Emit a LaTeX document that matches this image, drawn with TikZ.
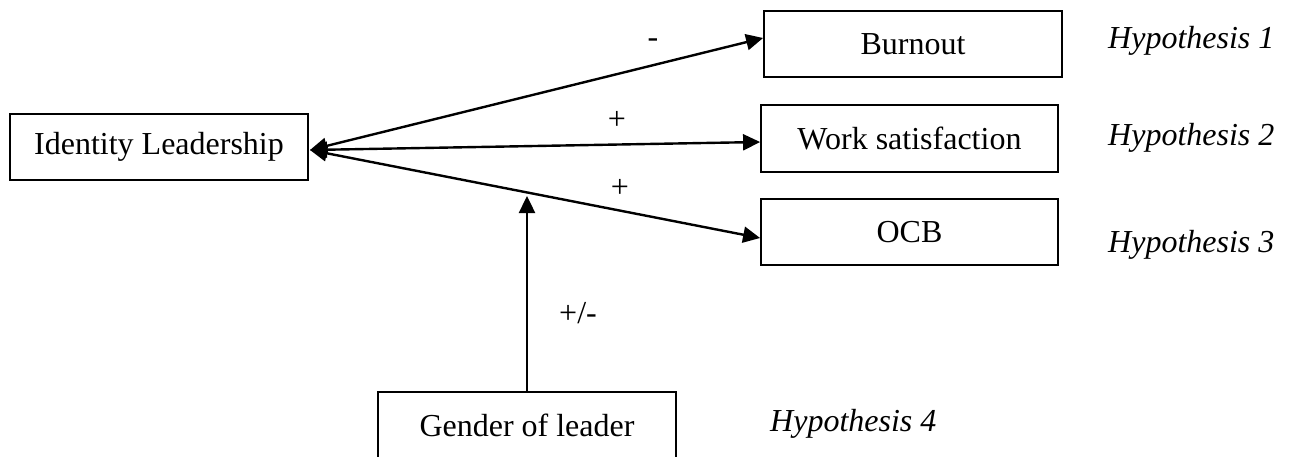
\documentclass[tikz,border=0pt]{standalone}
\usepackage{fontspec}
\setmainfont{Liberation Serif}
\usetikzlibrary{arrows.meta}
\begin{document}
\begin{tikzpicture}[x=1pt,y=-1pt,
  box/.style={draw,line width=1.8pt,inner sep=0pt,font=\fontsize{32}{38}\selectfont},
  lbl/.style={font=\fontsize{32}{38}\selectfont,inner sep=0pt},
  hyp/.style={font=\fontsize{32}{38}\selectfont\itshape,inner sep=0pt,anchor=west},
  conn/.style={line width=2.4pt,{Triangle[length=17pt,width=16pt]}-{Triangle[length=17pt,width=16pt]}},
  upar/.style={line width=2.4pt,-{Triangle[length=17pt,width=16pt]}}]
\useasboundingbox (0,0) rectangle (1292,457);
\node[box,minimum width=298pt,minimum height=66pt] (IL) at (159,147) {Identity Leadership};
\node[box,minimum width=298pt,minimum height=66pt] (BO) at (913,44) {Burnout};
\node[box,minimum width=297pt,minimum height=67pt] (WS) at (909.5,138.5) {Work satisfaction};
\node[box,minimum width=297pt,minimum height=66pt] (OCB) at (909.5,232) {OCB};
\node[box,minimum width=298pt,minimum height=66pt] (GL) at (527,425) {Gender of leader};
\node[hyp] (H1) at (1108,41) {Hypothesis 1};
\node[hyp] (H2) at (1108,138) {Hypothesis 2};
\node[hyp] (H3) at (1108,245) {Hypothesis 3};
\node[hyp] (H4) at (770,424) {Hypothesis 4};
\node[lbl] (m1) at (653,43) {-};
\node[lbl] (p2) at (617,120) {+};
\node[lbl] (p3) at (620,188) {+};
\node[lbl] (pm) at (578,313) {+/-};
\coordinate (hub) at (310,150);
\coordinate (modtip) at (527,196);
\draw[conn] (hub) -- ([yshift=6pt]BO.west);
\draw[conn] (hub) -- ([yshift=-3.5pt]WS.west);
\draw[conn] (hub) -- ([yshift=-6pt]OCB.west);
\draw[upar] (GL.north) -- (modtip);
\end{tikzpicture}
\end{document}
